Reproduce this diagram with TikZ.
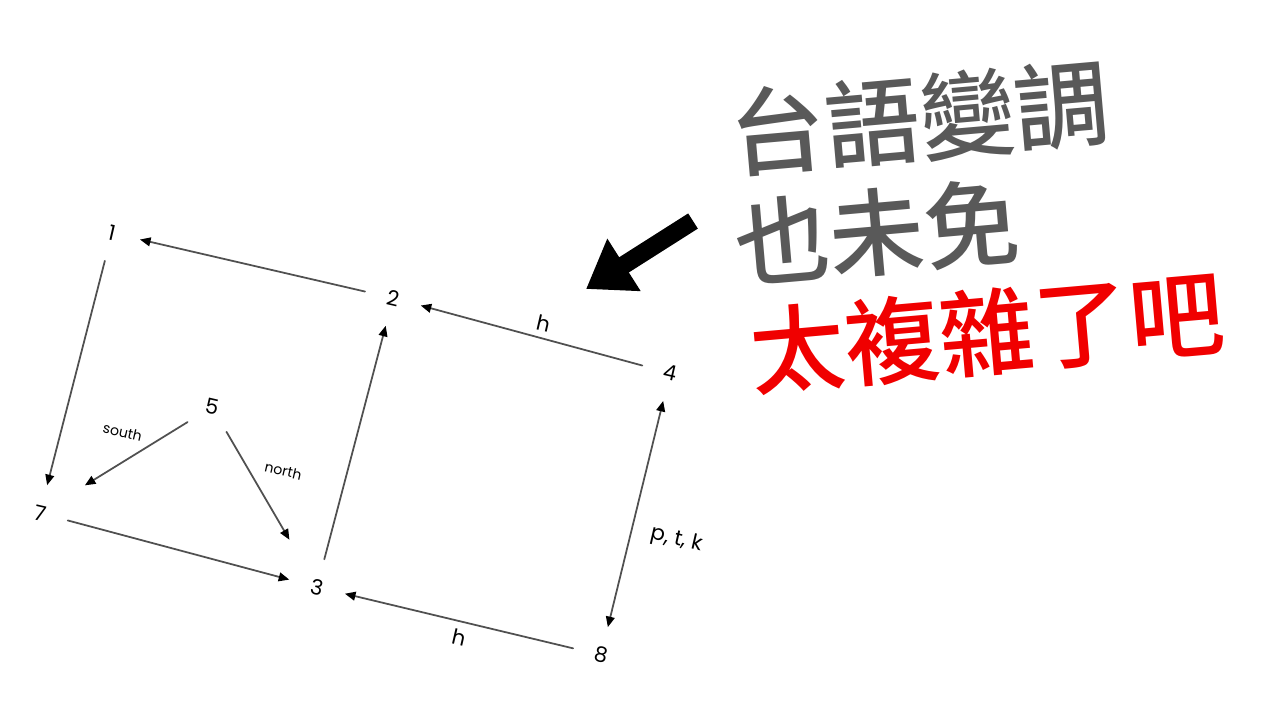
\documentclass[tikz,border=0pt]{standalone}
\usepackage{fontspec}
\setmainfont{Poppins}
\newfontfamily\cjk{Noto Sans CJK TC}[UprightFont={* Medium}]
\usepackage{tikz}
\usetikzlibrary{positioning}
\usetikzlibrary{arrows.meta}
\usepackage{xcolor}
\definecolor{edgegray}{RGB}{80,80,80}
\definecolor{titlegray}{RGB}{89,89,89}
\definecolor{titlered}{RGB}{240,0,0}

\tikzset{
	num/.style={circle, minimum size=0.56cm, inner sep=0pt, rotate=-13, font=\fontsize{6}{7}\selectfont},
	lbl/.style={inner sep=1pt, rotate=-13, font=\fontsize{6}{7}\selectfont},
	small lbl/.style={inner sep=1pt, rotate=-13, font=\fontsize{4}{5}\selectfont},
	tip/.tip={Triangle[length=3pt,width=2.5pt,color=black]},
	edge/.style={draw=edgegray, line width=0.5pt, -tip},
	bigarrow/.style={draw=black, line width=0.18cm, line cap=butt, -{Triangle[length=0.45cm,width=0.59cm]}},
	title/.style={rotate=5, font=\cjk\fontsize{27}{30}\selectfont}
}

\begin{document}
\begin{tikzpicture}[x=0.01cm, y=-0.01cm, line cap=round, line join=round]
	\useasboundingbox (0,0) rectangle (1280,720);
	% states
	\node[num] (n1) at (112,233) {1};
	\node[num] (n2) at (393,298) {2};
	\node[num] (n4) at (670,373) {4};
	\node[num] (n7) at (40,513) {7};
	\node[num] (n3) at (317,587) {3};
	\node[num] (n8) at (601,655) {8};
	\node[num] (n5) at (212,407) {5};
	% transitions
	\draw[edge] (n2) -- (n1);
	\draw[edge] (n1) -- (n7);
	\draw[edge] (n7) -- (n3);
	\draw[edge] (n3) -- (n2);
	\draw[edge] (n4) -- (n2) node[midway, xshift=0.12cm, yshift=0.12cm, lbl] {h};
	\draw[edge] (n8) -- (n3) node[midway, yshift=-0.16cm, lbl] {h};
	\draw[edge, tip-tip] (n8) -- (n4) node[pos=0.386, xshift=0.47cm, lbl] {p, t, k};
	\draw[edge, shorten >=0.24cm] (n5) -- (n7) node[pos=0.3, xshift=-0.28cm, yshift=0.13cm, small lbl] {south};
	\draw[edge, shorten >=0.26cm] (n5) -- (n3) node[pos=0.3, xshift=0.34cm, small lbl] {north};
	% pointer and caption
	\coordinate (tail) at (693,221);
	\coordinate (tip) at (586,289);
	\draw[bigarrow] (tail) -- (tip);
	\node[title, text=titlegray] (line1) at (920,118) {台語變調};
	\node[title, text=titlegray] (line2) at (877,232) {也未免};
	\node[title, text=titlered] (line3) at (987,332) {太複雜了吧};
\end{tikzpicture}
\end{document}
